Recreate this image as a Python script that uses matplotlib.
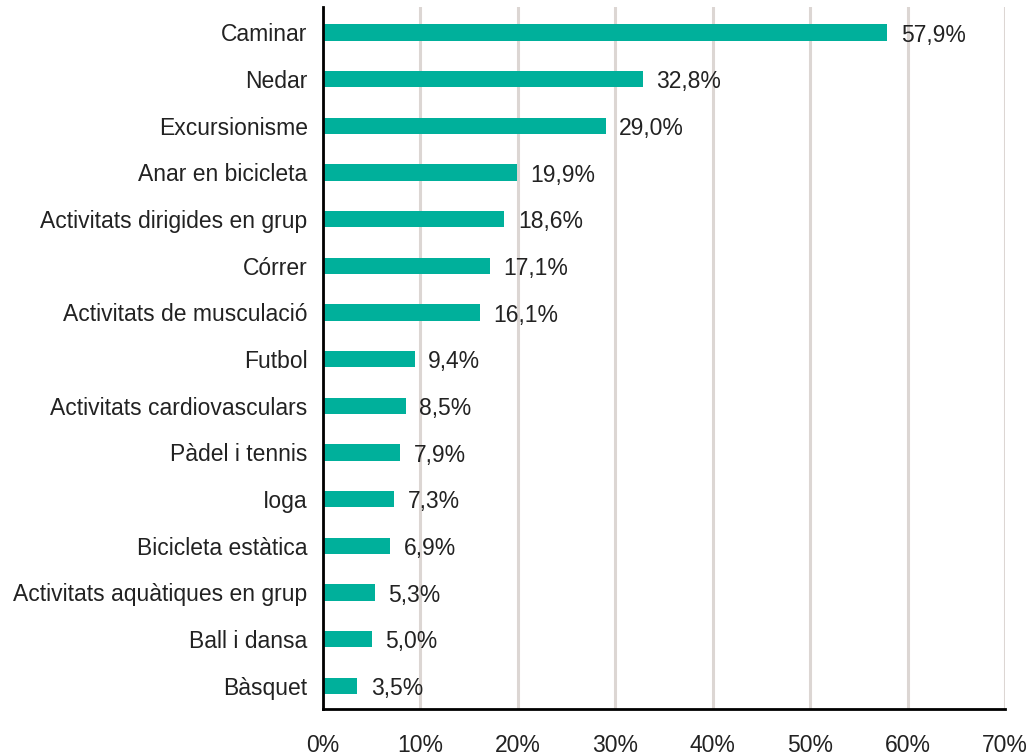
import matplotlib
matplotlib.use("Agg")
import matplotlib.pyplot as plt

categories = ["Caminar", "Nedar", "Excursionisme", "Anar en bicicleta",
              "Activitats dirigides en grup", "Córrer", "Activitats de musculació",
              "Futbol", "Activitats cardiovasculars", "Pàdel i tennis", "Ioga",
              "Bicicleta estàtica", "Activitats aquàtiques en grup",
              "Ball i dansa", "Bàsquet"]
values = [57.9, 32.8, 29.0, 19.9, 18.6, 17.1, 16.1, 9.4, 8.5, 7.9, 7.3, 6.9, 5.3, 5.0, 3.5]
xticks = [0, 10, 20, 30, 40, 50, 60, 70]

plt.rcParams['font.family'] = ['Liberation Sans', 'DejaVu Sans']

fig = plt.figure(figsize=(10.32, 7.56), dpi=100)
ax = fig.add_axes([0.313, 0.062, 0.661, 0.929])

ypos = list(range(len(categories)))
ax.barh(ypos, values, height=0.35, color="#00b09b", zorder=3)

# etiquetes de valor amb coma decimal
for y, v in zip(ypos, values):
    ax.text(v + 1.4, y + 0.06, f"{v:.1f}%".replace(".", ","), va="center", ha="left",
            fontsize=16.5, color="#222222", zorder=4)

ax.set_ylim(len(categories) - 0.5, -0.55)
ax.set_xlim(0, 70)
ax.set_yticks(ypos)
ax.set_yticklabels(categories, fontsize=16.5, color="#222222")
ax.set_xticks(xticks)
ax.set_xticklabels([f"{t}%" for t in xticks], fontsize=16.5, color="#222222")
ax.tick_params(axis="both", length=0)
ax.tick_params(axis="y", pad=11)
ax.tick_params(axis="x", pad=18)

ax.grid(axis="x", color="#dcd6d3", linewidth=2.2, zorder=0)
ax.set_axisbelow(True)
for s in ["top", "right"]:
    ax.spines[s].set_visible(False)
ax.spines["left"].set_linewidth(2)
ax.spines["bottom"].set_linewidth(2)
ax.spines["left"].set_zorder(5)

fig.savefig("out.png", dpi=100)
